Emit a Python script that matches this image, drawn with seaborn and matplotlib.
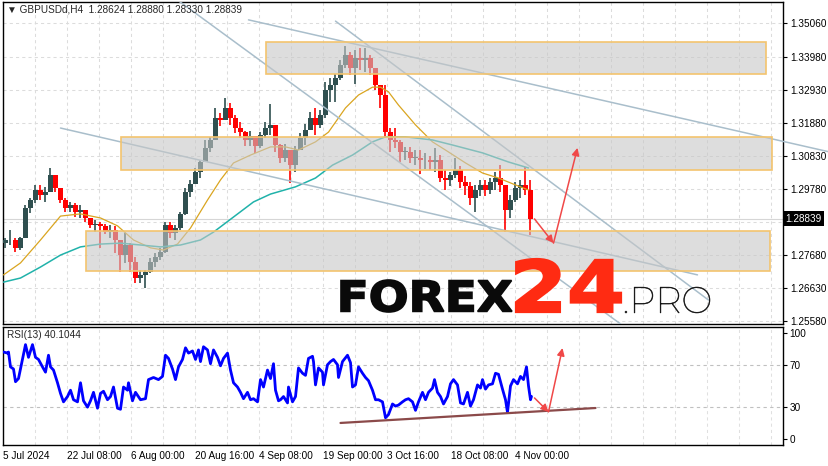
import numpy as np
import matplotlib
matplotlib.use("Agg")
import matplotlib.pyplot as plt
import seaborn as sns
from matplotlib.patches import Rectangle, PathPatch
from matplotlib.textpath import TextPath
from matplotlib.font_manager import FontProperties
from matplotlib.transforms import Affine2D

# ---------------- data (GBPUSD H4, 5-bar groups) ----------------
first_open = 1.2806
highs = [1.2822, 1.2848, 1.2822, 1.2826, 1.2927, 1.2950, 1.2991, 1.2991, 1.2985, 1.3045,
         1.3023, 1.2981, 1.2950, 1.2937, 1.2934, 1.2927, 1.2911, 1.2886, 1.2880, 1.2873,
         1.2867, 1.2864, 1.2861, 1.2816, 1.2838, 1.2806, 1.2762, 1.2721, 1.2721, 1.2759,
         1.2775, 1.2791, 1.2873, 1.2873, 1.2864, 1.2905, 1.2981, 1.3007, 1.3045, 1.3070,
         1.3134, 1.3144, 1.3236, 1.3220, 1.3268, 1.3252, 1.3213, 1.3191, 1.3163, 1.3163,
         1.3140, 1.3159, 1.3191, 1.3248, 1.3172, 1.3121, 1.3121, 1.3102, 1.3115, 1.3156,
         1.3185, 1.3223, 1.3236, 1.3229, 1.3318, 1.3331, 1.3344, 1.3388, 1.3433, 1.3414,
         1.3420, 1.3427, 1.3427, 1.3404, 1.3347, 1.3309, 1.3309, 1.3172, 1.3172, 1.3134,
         1.3112, 1.3112, 1.3102, 1.3102, 1.3093, 1.3083, 1.3109, 1.3086, 1.3039, 1.3032,
         1.3077, 1.3051, 1.3020, 1.3000, 1.2991, 1.3007, 1.3007, 1.3013, 1.3032, 1.3054,
         1.2991, 1.2959, 1.3000, 1.3007, 1.3048, 1.3007]
lows = [1.2791, 1.2800, 1.2778, 1.2784, 1.2826, 1.2902, 1.2934, 1.2943, 1.2937, 1.2975,
        1.2969, 1.2934, 1.2905, 1.2905, 1.2889, 1.2886, 1.2873, 1.2854, 1.2841, 1.2791,
        1.2835, 1.2822, 1.2775, 1.2714, 1.2743, 1.2714, 1.2679, 1.2679, 1.2663, 1.2711,
        1.2730, 1.2752, 1.2775, 1.2822, 1.2816, 1.2848, 1.2895, 1.2953, 1.3000, 1.3013,
        1.3070, 1.3096, 1.3134, 1.3179, 1.3204, 1.3182, 1.3156, 1.3140, 1.3115, 1.3115,
        1.3093, 1.3109, 1.3140, 1.3150, 1.3096, 1.3061, 1.3064, 1.2997, 1.3032, 1.3102,
        1.3118, 1.3166, 1.3150, 1.3172, 1.3204, 1.3255, 1.3255, 1.3325, 1.3363, 1.3341,
        1.3312, 1.3357, 1.3350, 1.3341, 1.3293, 1.3236, 1.3140, 1.3096, 1.3109, 1.3064,
        1.3070, 1.3061, 1.3054, 1.3026, 1.3042, 1.3039, 1.3032, 1.3000, 1.2975, 1.2988,
        1.3013, 1.2981, 1.2959, 1.2927, 1.2905, 1.2956, 1.2956, 1.2962, 1.2975, 1.2969,
        1.2841, 1.2886, 1.2937, 1.2950, 1.2959, 1.2833]
closes = [1.2816, 1.2816, 1.2791, 1.2822, 1.2918, 1.2943, 1.2975, 1.2959, 1.2969, 1.3023,
          1.2981, 1.2943, 1.2918, 1.2927, 1.2905, 1.2911, 1.2886, 1.2864, 1.2867, 1.2861,
          1.2841, 1.2848, 1.2816, 1.2768, 1.2800, 1.2746, 1.2695, 1.2705, 1.2714, 1.2746,
          1.2762, 1.2778, 1.2864, 1.2838, 1.2854, 1.2899, 1.2969, 1.2994, 1.3032, 1.3064,
          1.3109, 1.3134, 1.3204, 1.3198, 1.3236, 1.3204, 1.3172, 1.3159, 1.3134, 1.3147,
          1.3115, 1.3150, 1.3172, 1.3182, 1.3118, 1.3077, 1.3102, 1.3054, 1.3102, 1.3140,
          1.3166, 1.3204, 1.3182, 1.3213, 1.3293, 1.3309, 1.3331, 1.3372, 1.3404, 1.3363,
          1.3395, 1.3388, 1.3395, 1.3363, 1.3309, 1.3277, 1.3159, 1.3134, 1.3128, 1.3096,
          1.3096, 1.3077, 1.3077, 1.3070, 1.3070, 1.3064, 1.3070, 1.3013, 1.3007, 1.3023,
          1.3039, 1.3000, 1.2988, 1.2950, 1.2975, 1.2991, 1.2975, 1.3000, 1.3013, 1.2991,
          1.2911, 1.2943, 1.2981, 1.2991, 1.2975, 1.28839]

ma_fast_bars = [0, 17, 37, 57, 77, 97, 114, 130, 147, 160, 174, 187, 204, 217, 230, 247, 267,
                282, 295, 312, 325, 342, 355, 369, 377, 385, 395, 412, 429, 442, 462, 479,
                495, 512, 525]
ma_fast = [1.2705, 1.2743, 1.2816, 1.2892, 1.2899, 1.2886, 1.2861, 1.2816, 1.2791, 1.2784,
           1.2803, 1.2854, 1.2943, 1.3007, 1.3061, 1.3086, 1.3112, 1.3112, 1.3102, 1.3128,
           1.3159, 1.3236, 1.3277, 1.3302, 1.3302, 1.3287, 1.3245, 1.3182, 1.3128, 1.3102,
           1.3061, 1.3029, 1.3013, 1.2991, 1.2975]
ma_slow_bars = [0, 17, 37, 57, 77, 97, 117, 137, 157, 177, 197, 210, 230, 250, 267, 292, 312,
                329, 349, 369, 382, 402, 429, 449, 479, 505, 525]
ma_slow = [1.2682, 1.2695, 1.2730, 1.2768, 1.2794, 1.2803, 1.2806, 1.2800, 1.2794, 1.2800,
           1.2816, 1.2841, 1.2889, 1.2937, 1.2962, 1.2985, 1.3013, 1.3054, 1.3086, 1.3128,
           1.3144, 1.3144, 1.3134, 1.3118, 1.3093, 1.3064, 1.3045]

rsi_bars = [0, 4, 5, 7, 10, 12, 15, 19, 22, 25, 29, 32, 35, 39, 42, 45, 47, 50, 54, 57,
            60, 64, 67, 70, 74, 77, 80, 84, 87, 90, 94, 97, 100, 104, 107, 110, 114, 117, 120, 124,
            125, 129, 132, 137, 142, 145, 150, 155, 159, 162, 165, 169, 172, 175, 179, 182, 185, 189, 192, 195,
            197, 200, 204, 207, 210, 214, 217, 220, 224, 227, 230, 234, 237, 240, 244, 247, 250, 254, 257, 260,
            264, 267, 270, 272, 275, 277, 280, 284, 285, 289, 292, 295, 299, 302, 305, 309, 310, 312, 315, 319,
            320, 324, 327, 330, 334, 335, 339, 344, 347, 349, 352, 355, 359, 362, 365, 369, 372, 375, 379, 382,
            385, 389, 392, 395, 399, 402, 405, 409, 412, 415, 419, 422, 425, 429, 431, 434, 437, 440, 444, 447,
            450, 454, 457, 460, 464, 467, 470, 474, 477, 479, 482, 485, 489, 492, 495, 499, 502, 504, 507, 510,
            514, 517, 520, 523, 525, 527, 528]
rsi_vals = [82, 81, 82, 68, 66, 54, 57, 75, 89, 77, 89, 77, 75, 68, 63, 79, 68, 65, 53, 43,
            35, 40, 46, 37, 35, 53, 36, 30, 36, 44, 29, 43, 45, 37, 40, 49, 29, 28, 49, 46,
            53, 36, 44, 37, 38, 56, 58, 56, 59, 79, 76, 66, 56, 68, 75, 86, 81, 83, 75, 84,
            73, 87, 84, 71, 84, 77, 69, 76, 81, 65, 53, 49, 44, 38, 44, 37, 38, 35, 56, 49,
            65, 57, 71, 46, 36, 37, 40, 34, 49, 35, 40, 67, 62, 60, 76, 78, 73, 51, 67, 63,
            51, 70, 73, 75, 70, 58, 73, 79, 72, 49, 51, 68, 62, 58, 55, 46, 37, 37, 35, 20,
            23, 33, 31, 32, 35, 37, 38, 35, 27, 35, 44, 37, 44, 48, 56, 44, 40, 33, 40, 52,
            56, 51, 34, 33, 44, 31, 37, 51, 48, 56, 47, 51, 52, 62, 61, 47, 37, 25, 50, 56,
            52, 59, 56, 68, 50, 37, 40.1044]

# zones: (bar start, bar end, price low, price high)
zones = [(263, 763, 1.3344, 1.3446), (118, 769, 1.3039, 1.3144), (83, 767, 1.2717, 1.2845)]
# trend lines: (bar0, price0, bar1, price1)
trend_lines = [(245, 1.3516, 826, 1.3096), (174, 1.3579, 617, 1.2549),
               (332, 1.3512, 705, 1.2625), (57, 1.3172, 694, 1.2705)]
price_arrows = [((531, 1.2883), (550, 1.2806)), ((550, 1.2806), (574, 1.3109))]
rsi_arrows = [((531, 38.7), (545, 25.5)), ((545, 25.5), (559, 85.8))]
rsi_trend = ((337, 15.1), (592, 29.2))

price_ticks = [1.35060, 1.33980, 1.32930, 1.31880, 1.30830, 1.29780, 1.28730, 1.27680, 1.26630, 1.25580]
date_labels = ["5 Jul 2024", "22 Jul 08:00", "6 Aug 00:00", "20 Aug 16:00", "4 Sep 08:00",
               "19 Sep 00:00", "3 Oct 16:00", "18 Oct 08:00", "4 Nov 00:00"]
last_price = 1.28839

# ---------------- figure ----------------
sns.set_theme(style="white")
plt.rcParams["font.family"] = ["Liberation Sans", "DejaVu Sans"]
W, H = 829, 466
fig = plt.figure(figsize=(W / 100, H / 100), dpi=100)
fig.patch.set_facecolor("white")

ax = fig.add_axes([3 / W, 142 / H, 780 / W, 322 / H])
axr = fig.add_axes([3 / W, 21 / H, 780 / W, 118.5 / H])

UP, DOWN = "#2F4F4F", "#FF0000"
FS = 7.2

# candles
closes_a = np.array(closes)
opens_a = np.array([first_open] + closes[:-1])
centers = np.arange(len(closes)) * 5 + 2
cols = [UP if c >= o else DOWN for o, c in zip(opens_a, closes_a)]
ax.vlines(centers, lows, highs, colors=cols, linewidth=1.2, zorder=3)
ax.bar(centers, np.maximum(np.abs(closes_a - opens_a), 0.00015),
       bottom=np.minimum(opens_a, closes_a), width=4.4, color=cols, linewidth=0, zorder=3)

sns.lineplot(x=ma_fast_bars, y=ma_fast, ax=ax, color="#DAA520", linewidth=0.9, zorder=4)
sns.lineplot(x=ma_slow_bars, y=ma_slow, ax=ax, color="#20B2AA", linewidth=1.1, zorder=4)

for i, (b0, p0, b1, p1) in enumerate(trend_lines):
    ax.plot([b0, b1], [p0, p1], color="#A9BECB", linewidth=1.1, zorder=4, clip_on=(i != 0))

ax.axhline(last_price, color="#D6D6D6", linewidth=0.8, zorder=1)

for b0, b1, lo, hi in zones:
    ax.add_patch(Rectangle((b0, lo), b1 - b0, hi - lo, facecolor=(0.78, 0.78, 0.78, 0.6),
                           edgecolor="#F3C46E", linewidth=1.2, zorder=5))

for start, end in price_arrows:
    ax.annotate("", xy=end, xytext=start, zorder=6,
                arrowprops=dict(arrowstyle="-|>", color="#F04848", lw=1.1,
                                mutation_scale=11, shrinkA=0, shrinkB=0))

ax.set_xlim(-0.5, 779.5)
ax.set_ylim(1.25488, 1.35728)
ax.yaxis.tick_right()
ax.set_yticks(price_ticks)
# 1.28730 sits under the current-price box, as in the terminal
ax.set_yticklabels(["" if p == 1.28730 else f"{p:.5f}" for p in price_ticks])
ax.set_xticks(np.arange(0, 780, 32))
ax.set_xticklabels([])
ax.tick_params(axis="y", direction="out", length=3, width=0.8, pad=2, labelsize=FS, colors="black")
ax.tick_params(axis="x", length=0)
ax.grid(True, linestyle=(0, (3, 3)), color="#DCDCDC", linewidth=0.75)
ax.set_xlabel("")
ax.set_ylabel("")
for s in ax.spines.values():
    s.set_color("black")
    s.set_linewidth(1)

ax.text(1.003, last_price, "1.28839", transform=ax.get_yaxis_transform(), ha="left", va="center",
        fontsize=FS, color="white", zorder=10, clip_on=False,
        bbox=dict(facecolor="black", edgecolor="none", pad=1.6))

# ---------------- RSI panel ----------------
sns.lineplot(x=rsi_bars, y=rsi_vals, ax=axr, color="#0000FF", linewidth=2.0, zorder=3)
for lvl in (30, 70):
    axr.axhline(lvl, color="#C0C0C0", linestyle=(0, (3, 3)), linewidth=0.8, zorder=1)
axr.plot([rsi_trend[0][0], rsi_trend[1][0]], [rsi_trend[0][1], rsi_trend[1][1]],
         color="#8B4A4A", linewidth=1.6, zorder=4)
for start, end in rsi_arrows:
    axr.annotate("", xy=end, xytext=start, zorder=6,
                 arrowprops=dict(arrowstyle="-|>", color="#F04848", lw=1.1,
                                 mutation_scale=11, shrinkA=0, shrinkB=0))
axr.set_xlim(-0.5, 779.5)
axr.set_ylim(-5.7, 106.1)
axr.yaxis.tick_right()
axr.set_yticks([0, 30, 70, 100])
axr.set_yticklabels(["0", "30", "70", "100"])
major = np.arange(0, 780, 64)
axr.set_xticks(major)
axr.set_xticklabels([date_labels[i] if i < len(date_labels) else "" for i in range(len(major))])
for lbl in axr.get_xticklabels():
    lbl.set_ha("left")
axr.set_xticks(np.arange(32, 780, 64), minor=True)
axr.tick_params(axis="both", direction="out", length=3, width=0.8, pad=1.5, labelsize=FS, colors="black")
axr.tick_params(axis="x", which="minor", length=0)
axr.grid(True, axis="x", which="both", linestyle=(0, (3, 3)), color="#E0E0E0", linewidth=0.75)
axr.set_xlabel("")
axr.set_ylabel("")
for s in axr.spines.values():
    s.set_color("black")
    s.set_linewidth(1)

fig.text(7 / W, 1 - 10 / H, "\u25bc GBPUSDd,H4  1.28624 1.28880 1.28330 1.28839", fontsize=FS,
         va="center", ha="left", family=["Liberation Sans", "DejaVu Sans"])
fig.text(7 / W, 1 - 335 / H, "RSI(13) 40.1044", fontsize=FS, va="center", ha="left")


# ---------------- watermark ----------------
def logo_text(s, x0, x1, y_top, y_base, color, fp, stroke=0.0):
    tp = TextPath((0, 0), s, size=100, prop=fp)
    ext = tp.get_extents()
    tr = (Affine2D().translate(-ext.x0, -ext.y0)
          .scale((x1 - x0) / ext.width, (y_base - y_top) / ext.height)
          .translate(x0, H - y_base).scale(1 / W, 1 / H))
    fig.add_artist(PathPatch(tr.transform_path(tp), facecolor=color, edgecolor=color,
                             linewidth=stroke, transform=fig.transFigure, zorder=20))


heavy = FontProperties(family="DejaVu Sans", weight="bold")
thin = FontProperties(family=["Montserrat", "Lato", "DejaVu Sans"], weight="light")
logo_text("FOREX", 341, 512, 280, 312, "#0A0A0A", heavy, stroke=1.2)
logo_text("24", 516, 621, 259, 312, "#FF2B12", heavy, stroke=1.6)
logo_text(".PRO", 625, 710, 287, 313, "#111111", thin, stroke=0.4)

fig.savefig("out.png", dpi=100)
